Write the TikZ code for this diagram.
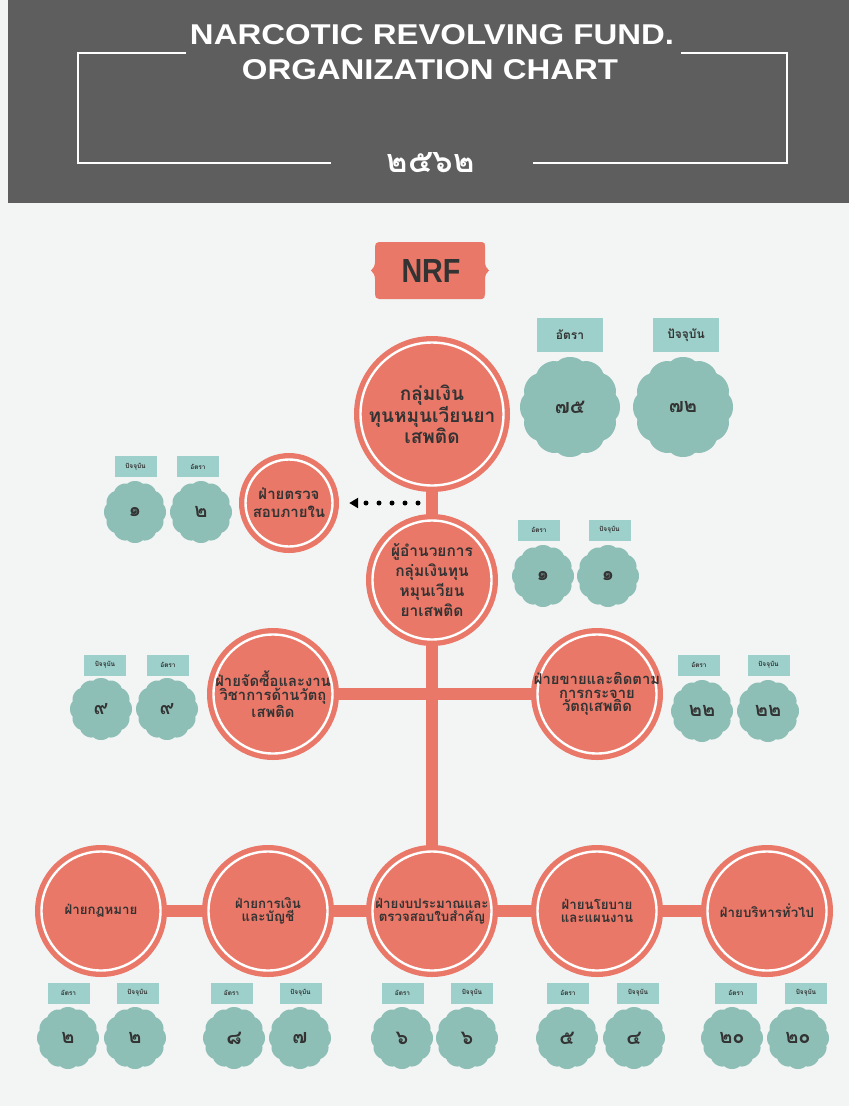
\documentclass[tikz,border=0pt]{standalone}
\usepackage{fontspec}
\usepackage{graphicx}
\usetikzlibrary{arrows.meta,backgrounds}
\setmainfont{Liberation Sans}
\newfontfamily\thai[Script=Thai]{Loma}
\definecolor{salmon}{HTML}{EA7868}
\definecolor{pagebg}{HTML}{F3F5F5}
\definecolor{headgray}{HTML}{5E5E5E}
\definecolor{badgecol}{HTML}{8EBFB6}
\definecolor{labcol}{HTML}{9DD0CB}
\definecolor{darktext}{HTML}{333333}
\newcommand\badge[5]{%
  \fill[badgecol, shift={(#2,#3)}] plot[domain=0:358, samples=180, smooth cycle] (\x:{#4*(0.925+0.075*sqrt(abs(cos(6*\x))))});
  \node[badgetext] (#1) at (#2,#3) {#5};}
\begin{document}
\begin{tikzpicture}[x=1pt,y=-1pt,
  orgc/.style={circle, fill=salmon, draw=white, line width=2.4pt,
     preaction={draw=salmon, line width=13pt}, inner sep=-20pt, align=center,
     text=darktext},
  conn/.style={draw=salmon, line width=12pt},
  frame/.style={draw=white, line width=1.8pt},
  badgetext/.style={text=darktext, font=\thai\bfseries\fontsize{20}{21}\selectfont},
  biglab/.style={fill=labcol, minimum width=66pt, minimum height=34pt, inner sep=0pt, text=darktext, font=\thai\bfseries\fontsize{12}{13}\selectfont},
  smalllab/.style={fill=labcol, minimum width=42pt, minimum height=21pt, inner sep=0pt, text=darktext, font=\thai\bfseries\fontsize{6.5}{7}\selectfont},
  dotarrow/.style={draw=black, line width=5pt, line cap=round, dash pattern=on 0pt off 13pt, -{Triangle[length=9pt,width=10pt]}}
]
\useasboundingbox (0,0) rectangle (849,1106);
\begin{pgfonlayer}{background}
\fill[pagebg] (0,0) rectangle (849,1106);
\fill[headgray] (8,0) rectangle (849,203);
\end{pgfonlayer}
% header
\draw[frame] (186,53) -- (78,53) -- (78,163) -- (331,163);
\draw[frame] (681,53) -- (787,53) -- (787,163) -- (533,163);
\node[anchor=base, text=white, inner sep=0pt] (t1) at (432,44) {\resizebox{484pt}{20pt}{\bfseries NARCOTIC REVOLVING FUND.}};
\node[anchor=base, text=white, inner sep=0pt] (t2) at (430,79) {\resizebox{376pt}{20pt}{\bfseries ORGANIZATION CHART}};
\node[text=white, inner sep=0pt] (year) at (431,163) {\resizebox{88pt}{!}{\thai\bfseries ๒๕๖๒}};
% NRF
\fill[salmon] (379,242) -- (482,242) .. controls (485,242) and (485,244) .. (485,247) -- (485,262) .. controls (485,266) and (487,269) .. (489,270.5) .. controls (487,272) and (485,275) .. (485,279) -- (485,294) .. controls (485,297) and (484,299) .. (482,299) -- (379,299) .. controls (376,299) and (375,297) .. (375,294) -- (375,279) .. controls (375,275) and (373,272) .. (371,270.5) .. controls (373,269) and (375,266) .. (375,262) -- (375,247) .. controls (375,244) and (376,242) .. (379,242) -- cycle;
\node[text=darktext, inner sep=0pt] (nrf) at (431,271) {\resizebox{59pt}{23pt}{\bfseries NRF}};
% circles
\node[orgc, minimum size=143pt, font=\thai\bfseries\fontsize{19}{21}\selectfont] (top) at (432,414) {กลุ่มเงิน\\ทุนหมุนเวียนยา\\เสพติด};
\node[orgc, minimum size=87pt, font=\thai\bfseries\fontsize{15}{18}\selectfont] (audit) at (289,503) {ฝ่ายตรวจ\\สอบภายใน};
\node[orgc, minimum size=119pt, font=\thai\bfseries\fontsize{15.5}{20}\selectfont] (dir) at (432,580) {ผู้อำนวยการ\\กลุ่มเงินทุน\\หมุนเวียน\\ยาเสพติด};
\node[orgc, minimum size=119pt, font=\thai\bfseries\fontsize{14.8}{13.5}\selectfont] (proc) at (273,694) {ฝ่ายจัดซื้อและงาน\\วิชาการด้านวัตถุ\\เสพติด};
\node[orgc, minimum size=119pt, font=\thai\bfseries\fontsize{14.8}{13.5}\selectfont] (sales) at (597,694) {ฝ่ายขายและติดตาม\\การกระจาย\\วัตถุเสพติด};
\begin{scope}[every node/.append style={font=\thai\bfseries\fontsize{13.3}{13.5}\selectfont}]
\node[orgc, minimum size=119pt] (law) at (101,911) {ฝ่ายกฎหมาย};
\node[orgc, minimum size=119pt] (fin) at (268,911) {ฝ่ายการเงิน\\และบัญชี};
\node[orgc, minimum size=119pt] (bud) at (432,911) {ฝ่ายงบประมาณและ\\ตรวจสอบใบสำคัญ};
\node[orgc, minimum size=119pt] (pol) at (597,911) {ฝ่ายนโยบาย\\และแผนงาน};
\node[orgc, minimum size=119pt] (adm) at (767,911) {ฝ่ายบริหารทั่วไป};
\end{scope}
% connectors
\begin{pgfonlayer}{background}
\draw[conn] (top) -- (dir);
\draw[conn] (dir) -- (bud);
\draw[conn] (proc) -- (sales);
\draw[conn] (law) -- (fin) -- (bud) -- (pol) -- (adm);
\end{pgfonlayer}
\coordinate (dotstart) at (418,503);
\draw[dotarrow, shorten >=15.5pt] (dotstart) -- (audit);
% badges: top
\node[biglab] (l1a) at (570,335) {อัตรา};
\node[biglab] (l1b) at (686,335) {ปัจจุบัน};
\badge{b1a}{570}{407}{50}{๗๕}
\badge{b1b}{683}{407}{50}{๗๒}
% audit group
\node[smalllab] (l2a) at (135.5,466.5) {ปัจจุบัน};
\node[smalllab] (l2b) at (198,466.5) {อัตรา};
\badge{b2a}{135}{512}{31}{๑}
\badge{b2b}{201}{512}{31}{๒}
% director group
\node[smalllab] (l3a) at (539,530) {อัตรา};
\node[smalllab] (l3b) at (609.5,530) {ปัจจุบัน};
\badge{b3a}{543}{576}{31}{๑}
\badge{b3b}{608}{576}{31}{๑}
% left mid
\node[smalllab] (l4a) at (105,665) {ปัจจุบัน};
\node[smalllab] (l4b) at (168,665) {อัตรา};
\badge{b4a}{101}{709}{31}{๙}
\badge{b4b}{167}{709}{31}{๙}
% right mid
\node[smalllab] (l5a) at (699,665) {อัตรา};
\node[smalllab] (l5b) at (768.5,665) {ปัจจุบัน};
\badge{b5a}{702}{711}{31}{๒๒}
\badge{b5b}{768}{711}{31}{๒๒}
% bottom groups
\node[smalllab] (l6a) at (68.5,993) {อัตรา};
\node[smalllab] (l6b) at (137.5,993) {ปัจจุบัน};
\badge{b6a}{68}{1038}{31}{๒}
\badge{b6b}{135}{1038}{31}{๒}
\node[smalllab] (l7a) at (231.5,993) {อัตรา};
\node[smalllab] (l7b) at (300.5,993) {ปัจจุบัน};
\badge{b7a}{234}{1038}{31}{๘}
\badge{b7b}{300}{1038}{31}{๗}
\node[smalllab] (l8a) at (402.5,993) {อัตรา};
\node[smalllab] (l8b) at (472,993) {ปัจจุบัน};
\badge{b8a}{402}{1038}{31}{๖}
\badge{b8b}{467}{1038}{31}{๖}
\node[smalllab] (l9a) at (568,993) {อัตรา};
\node[smalllab] (l9b) at (638,993) {ปัจจุบัน};
\badge{b9a}{567}{1038}{31}{๕}
\badge{b9b}{634}{1038}{31}{๔}
\node[smalllab] (l10a) at (736,993) {อัตรา};
\node[smalllab] (l10b) at (806,993) {ปัจจุบัน};
\badge{b10a}{732}{1038}{31}{๒๐}
\badge{b10b}{798}{1038}{31}{๒๐}
\end{tikzpicture}
\end{document}
